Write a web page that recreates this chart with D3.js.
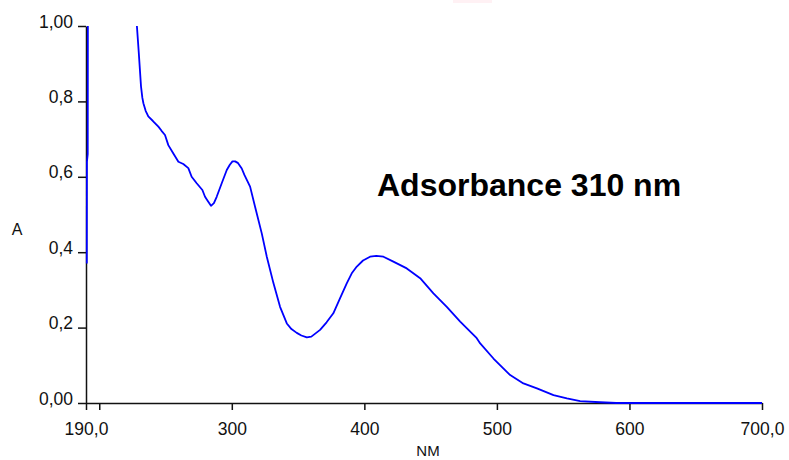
<!DOCTYPE html>
<html>
<head>
<meta charset="utf-8">
<script src="https://cdn.jsdelivr.net/npm/d3@7"></script>
<style>
  body { margin: 0; background: #fff; }
  svg { display: block; font-family: "Liberation Sans", Arial, sans-serif; }
</style>
</head>
<body>
<svg id="chart" width="789" height="460"></svg>
<script>
// spectrum (nm, absorbance); values above 1 get clipped
const wavelengths = [190.6, 190.7, 191.3, 191.5, 227, 228.0, 229.8, 231.5, 232.5, 233.3, 235, 237, 240.5, 244.6, 247, 249.6,
  252.1, 255.9, 259.7, 263.4, 267.2, 269.7, 273.5, 277.8, 279.8, 282, 284.3, 286.5, 288.6, 292.4, 296.2, 298.5,
  300.5, 302.5, 304.5, 307.5, 309.5, 313.8, 317.5, 322.6, 326.4, 331.4, 336.4, 341.5, 345, 349, 352.5, 356.6,
  360, 366.6, 371.5, 376.6, 381.7, 386.8, 390.5, 394.3, 399, 404.3, 409, 414.4, 421.9, 432, 442.1, 452.1,
  462.2, 472.3, 484.8, 487.4, 497.4, 510, 520, 530.2, 542.7, 552.8, 562.8, 577.9, 590, 700];
const absorbance = [0.37, 0.64, 0.66, 1.3, 1.3, 1.02, 0.93, 0.84, 0.81, 0.795, 0.775, 0.76, 0.748, 0.733, 0.722, 0.711,
  0.684, 0.662, 0.64, 0.634, 0.623, 0.60, 0.583, 0.565, 0.547, 0.535, 0.523, 0.53, 0.547, 0.583, 0.618, 0.632,
  0.641, 0.641, 0.637, 0.622, 0.605, 0.574, 0.521, 0.45, 0.388, 0.318, 0.255, 0.211, 0.196, 0.186, 0.179, 0.174,
  0.176, 0.194, 0.214, 0.238, 0.278, 0.318, 0.344, 0.362, 0.378, 0.388, 0.39, 0.388, 0.375, 0.357, 0.331, 0.291,
  0.255, 0.216, 0.172, 0.158, 0.118, 0.074, 0.052, 0.039, 0.021, 0.012, 0.005, 0.002, 0, 0];

const xTicks = [190, 200, 300, 400, 500, 600, 700];
const xTickLabels = ["190,0", "", "300", "400", "500", "600", "700,0"];
const yTicks = [0, 0.2, 0.4, 0.6, 0.8, 1.0];
const yTickLabels = ["0,00", "0,2", "0,4", "0,6", "0,8", "1,00"];

const svg = d3.select("#chart");

const x = d3.scaleLinear().domain([190, 700]).range([86, 762]);
const y = d3.scaleLinear().domain([0, 1]).range([403, 26]);

// faint pink smudge at the top edge of the original
svg.append("rect")
  .attr("x", 453).attr("y", 0).attr("width", 39).attr("height", 3)
  .attr("fill", "#fff1f4");

svg.append("clipPath").attr("id", "plot-clip")
  .append("rect")
  .attr("x", 80).attr("y", y(1))
  .attr("width", 700).attr("height", y(0) - y(1) + 2);

// axes
const xAxis = d3.axisBottom(x)
  .tickValues(xTicks)
  .tickFormat((d, i) => xTickLabels[i])
  .tickSize(7)
  .tickSizeOuter(0);

const yAxis = d3.axisLeft(y)
  .tickValues(yTicks)
  .tickFormat((d, i) => yTickLabels[i])
  .tickSize(8)
  .tickSizeOuter(0);

const gx = svg.append("g")
  .attr("transform", `translate(0,${y(0)})`)
  .call(xAxis);
gx.selectAll("text")
  .attr("font-size", "17.5px")
  .attr("font-family", "Liberation Sans, Arial, sans-serif")
  .attr("fill", "#111")
  .attr("dy", null)
  .attr("y", 32);

const gy = svg.append("g")
  .attr("transform", `translate(${x(190)},0)`)
  .call(yAxis);
gy.selectAll("text")
  .attr("font-size", "17.5px")
  .attr("font-family", "Liberation Sans, Arial, sans-serif")
  .attr("fill", "#111")
  .attr("dy", null)
  .attr("y", 1)
  .attr("x", -13);

svg.selectAll(".domain, .tick line")
  .attr("stroke", "#111")
  .attr("stroke-width", 1.5);

// curve
const pts = wavelengths.map((w, i) => [w, absorbance[i]]);
svg.append("path")
  .datum(pts)
  .attr("clip-path", "url(#plot-clip)")
  .attr("fill", "none")
  .attr("stroke", "#0000ff")
  .attr("stroke-width", 1.8)
  .attr("stroke-linejoin", "round")
  .attr("d", d3.line().x(d => x(d[0])).y(d => y(d[1])));

// labels
svg.append("text")
  .attr("x", 17).attr("y", 235)
  .attr("text-anchor", "middle")
  .attr("font-size", "16px")
  .attr("fill", "#111")
  .text("A");

svg.append("text")
  .attr("x", 428).attr("y", 456)
  .attr("text-anchor", "middle")
  .attr("font-size", "15px")
  .attr("fill", "#111")
  .text("NM");

svg.append("text")
  .attr("x", 377).attr("y", 196)
  .attr("font-size", "32px")
  .attr("font-weight", "bold")
  .attr("fill", "#000")
  .text("Adsorbance 310 nm");
</script>
</body>
</html>
